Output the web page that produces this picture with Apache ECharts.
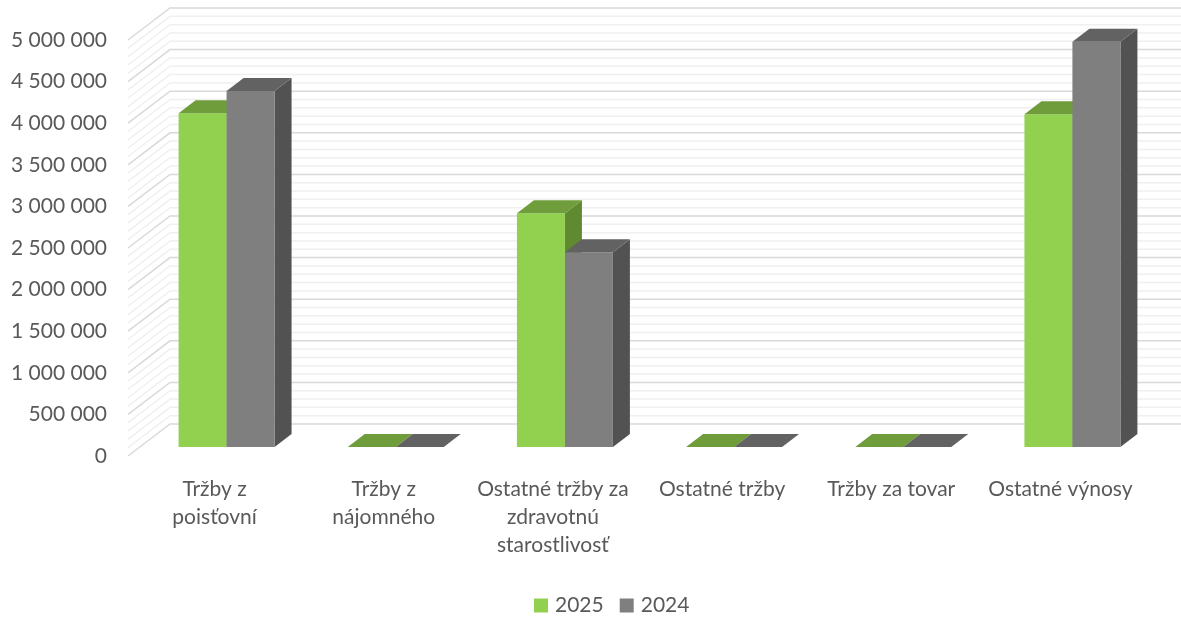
<!DOCTYPE html>
<html>
<head>
<meta charset="utf-8">
<script src="https://cdn.jsdelivr.net/npm/echarts@6/dist/echarts.min.js"></script>
<style>html,body{margin:0;padding:0;background:#fff}#c{width:1181px;height:617px}</style>
</head>
<body>
<div id="c"></div>
<script>
const categories = ['Tržby z\npoisťovní', 'Tržby z\nnájomného', 'Ostatné tržby za\nzdravotnú\nstarostlivosť', 'Ostatné tržby', 'Tržby za tovar', 'Ostatné výnosy'];
const seriesNames = ['2025', '2024'];
const values2025 = [4010000, 0, 2810000, 0, 0, 4000000];
const values2024 = [4280000, 0, 2340000, 0, 0, 4870000];
const yMin = 0, yMax = 5000000, yInterval = 500000, yMinorStep = 100000;

const WALL_DX = 42, WALL_DY = 32;      // depth of the 3D walls
const FRONT_DX = 12, FRONT_DY = 9;     // bar front offset inside depth
const BAR_DX = 17, BAR_DY = 13;        // bar depth
const BAR_FRAC = 0.2837;

const palettes = [
  { front: '#92d050', top: '#6f9d3b', side: '#5f8a30' },
  { front: '#7f7f7f', top: '#626262', side: '#525252' }
];

const gridValues = [];
for (let v = yMin; v <= yMax; v += yMinorStep) gridValues.push([0, v]);

function fmt(v) { return String(v).replace(/\B(?=(\d{3})+(?!\d))/g, ' '); }

function barRenderer(sIdx) {
  const pal = palettes[sIdx];
  return function (params, api) {
    const i = api.value(0), v = api.value(1);
    const base = api.coord([i, 0]);
    const top = api.coord([i, v]);
    const bw = api.size([1, 0])[0] * BAR_FRAC;
    const xl = base[0] - bw + sIdx * bw + FRONT_DX;
    const yb = base[1] - FRONT_DY;
    const yt = top[1] - FRONT_DY;
    const xr = xl + bw;
    const children = [];
    children.push({ type: 'polygon', shape: { points: [[xr, yt], [xr + BAR_DX, yt - BAR_DY], [xr + BAR_DX, yb - BAR_DY], [xr, yb]] }, style: { fill: pal.side } });
    if (yb - yt > 0.5) {
      children.push({ type: 'rect', shape: { x: xl, y: yt, width: bw, height: yb - yt }, style: { fill: pal.front } });
    }
    children.push({ type: 'polygon', shape: { points: [[xl, yt], [xr, yt], [xr + BAR_DX, yt - BAR_DY], [xl + BAR_DX, yt - BAR_DY]] }, style: { fill: pal.top } });
    return { type: 'group', children: children };
  };
}

const chart = echarts.init(document.getElementById('c'), null, { renderer: 'canvas' });
chart.setOption({
  animation: false,
  backgroundColor: '#ffffff',
  textStyle: { fontFamily: 'Lato' },
  grid: { left: 130, right: 36, top: 40, bottom: 161 },
  legend: {
    data: seriesNames,
    left: 529, top: 590,
    icon: 'rect', itemWidth: 14, itemHeight: 14, itemGap: 16,
    textStyle: { fontFamily: 'Lato', fontSize: 21, color: '#595959', padding: [0, 0, 0, 2] }
  },
  xAxis: {
    type: 'category', data: categories,
    axisLine: { show: false }, axisTick: { show: false },
    axisLabel: { interval: 0, margin: 19, fontFamily: 'Lato', fontSize: 21, color: '#595959', lineHeight: 28 }
  },
  yAxis: {
    type: 'value', min: yMin, max: yMax, interval: yInterval,
    axisLine: { show: false }, axisTick: { show: false }, splitLine: { show: false },
    axisLabel: { margin: 23, fontFamily: 'Lato', fontSize: 21, color: '#595959', formatter: fmt }
  },
  series: [
    {
      type: 'custom', name: 'grid', silent: true, z: 1,
      data: gridValues,
      renderItem: function (params, api) {
        const v = api.value(1);
        const y = api.coord([0, v])[1];
        const x0 = params.coordSys.x - 2;
        const major = Math.round(v) % yInterval === 0;
        return {
          type: 'polyline',
          shape: { points: [[x0, y], [x0 + WALL_DX, y - WALL_DY], [1200, y - WALL_DY]] },
          style: { stroke: major ? '#d9d9d9' : '#f0f0f0', lineWidth: 1.5, fill: null }
        };
      }
    },
    {
      type: 'custom', name: seriesNames[0], z: 2,
      itemStyle: { color: palettes[0].front },
      data: values2025.map((v, i) => [i, v]),
      renderItem: barRenderer(0)
    },
    {
      type: 'custom', name: seriesNames[1], z: 2,
      itemStyle: { color: palettes[1].front },
      data: values2024.map((v, i) => [i, v]),
      renderItem: barRenderer(1)
    }
  ]
});
</script>
</body>
</html>
